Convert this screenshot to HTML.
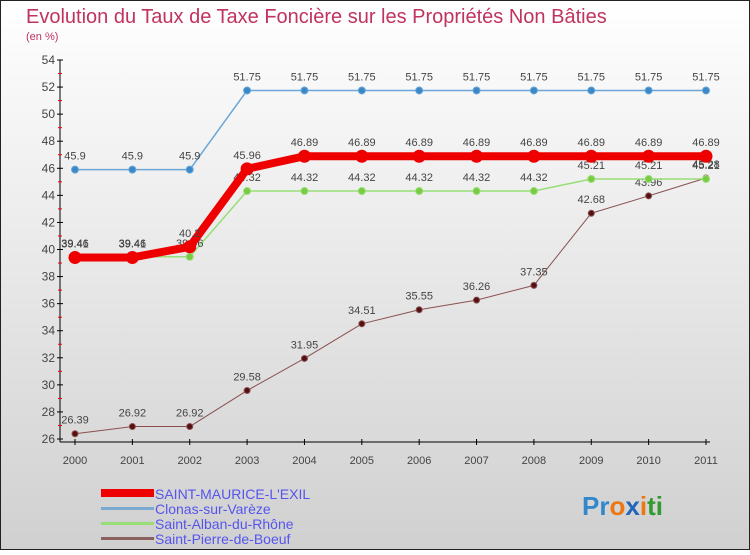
<!DOCTYPE html>
<html><head><meta charset="utf-8"><style>
body{margin:0;width:750px;height:550px;overflow:hidden;font-family:"Liberation Sans",sans-serif}
svg text{font-family:"Liberation Sans",sans-serif}
</style></head><body>
<svg id="c" width="750" height="550" xmlns="http://www.w3.org/2000/svg">
<defs><linearGradient id="bg" x1="0" y1="0" x2="0" y2="1"><stop offset="0" stop-color="#ffffff"/><stop offset="1" stop-color="#d0d0d0"/></linearGradient></defs>
<rect x="0.5" y="0.5" width="749" height="549" fill="url(#bg)" stroke="#222"/>
<text x="26" y="23" font-size="20" fill="#c0335f">Evolution du Taux de Taxe Foncière sur les Propriétés Non Bâties</text>
<text x="26" y="40" font-size="11" fill="#c0335f">(en %)</text>
<g id="axes"></g><g id="series"></g>
<g>
<rect x="101" y="489" width="53" height="8" fill="#ee0000"/>
<text x="155" y="499" font-size="14" fill="#5555ee">SAINT-MAURICE-L'EXIL</text>
<rect x="101" y="507" width="53" height="3" fill="#7aaad0"/>
<text x="155" y="514" font-size="14" fill="#5555ee">Clonas-sur-Varèze</text>
<rect x="101" y="522" width="53" height="3" fill="#99dd77"/>
<text x="155" y="529" font-size="14" fill="#5555ee">Saint-Alban-du-Rhône</text>
<rect x="101" y="537" width="53" height="3" fill="#8a6060"/>
<text x="155" y="544" font-size="14" fill="#5555ee">Saint-Pierre-de-Boeuf</text>
</g>
<text x="582" y="515" font-size="26" font-weight="bold"><tspan fill="#3388cc">Pr</tspan><tspan fill="#ee7711">o</tspan><tspan fill="#2266bb">x</tspan><tspan fill="#ee7711">i</tspan><tspan fill="#339933">ti</tspan></text>
</svg>
<script>
const years=[2000,2001,2002,2003,2004,2005,2006,2007,2008,2009,2010,2011];
const yTicks=[26,28,30,32,34,36,38,40,42,44,46,48,50,52,54];
const clonas=[45.9,45.9,45.9,51.75,51.75,51.75,51.75,51.75,51.75,51.75,51.75,51.75];
const saintMaurice=[39.41,39.41,40.2,45.96,46.89,46.89,46.89,46.89,46.89,46.89,46.89,46.89];
const saintAlban=[39.46,39.46,39.46,44.32,44.32,44.32,44.32,44.32,44.32,45.21,45.21,45.21];
const saintPierre=[26.39,26.92,26.92,29.58,31.95,34.51,35.55,36.26,37.35,42.68,43.96,45.28];
const NS="http://www.w3.org/2000/svg";
const xS=i=>75+i*(706-75)/11;
const yS=v=>439-(v-26)*(439-60)/28;
function mk(t,a,p){const e=document.createElementNS(NS,t);for(const k in a)e.setAttribute(k,a[k]);p.appendChild(e);return e;}
const ax=document.getElementById('axes');
let l=mk('line',{x1:60,y1:60,x2:60,y2:442,stroke:'#000'},ax);


l=mk('line',{x1:60,y1:442,x2:710,y2:442,stroke:'#000'},ax);


yTicks.forEach(v=>{
 const y=yS(v);
 mk('line',{x1:57,y1:y,x2:63,y2:y,stroke:'#000'},ax);
 if(v<54) mk('line',{x1:58,y1:yS(v+1),x2:62,y2:yS(v+1),stroke:'#e00'},ax);
 const t=mk('text',{x:55,y:y+4,'font-size':12,fill:'#444','text-anchor':'end'},ax);
 t.textContent=v;
 
 
});
years.forEach((yr,i)=>{
 const x=xS(i);
 mk('line',{x1:x,y1:439,x2:x,y2:445,stroke:'#000'},ax);
 const t=mk('text',{x:x,y:464,'font-size':11,fill:'#444','text-anchor':'middle'},ax);
 t.textContent=yr;
 
 
});
const sg=document.getElementById('series');
function draw(vals,name,color,w,r,dot){
 const g=mk('g',{},sg);
 
 
 mk('polyline',{points:vals.map((v,i)=>xS(i)+','+yS(v)).join(' '),fill:'none',stroke:color,'stroke-width':w,'stroke-linejoin':'round'},g);
 vals.forEach((v,i)=>{
  const c=mk('circle',{cx:xS(i),cy:yS(v),r:r,fill:dot,stroke:color,'stroke-width':1},g);
  
  
  const t=mk('text',{x:xS(i),y:yS(v)-10,'font-size':11,fill:'#444','text-anchor':'middle'},g);
  t.textContent=v;
  
  
 });
}
draw(saintPierre,'saint-pierre','#8a5050',1,3,'#551111');
draw(saintAlban,'saint-alban','#99dd77',1.5,3.5,'#77cc44');
draw(clonas,'clonas','#6aa6d8',1.5,3.5,'#3a88c8');
draw(saintMaurice,'saint-maurice','#ee0000',8,6,'#ee0000');
</script>
</body></html>
